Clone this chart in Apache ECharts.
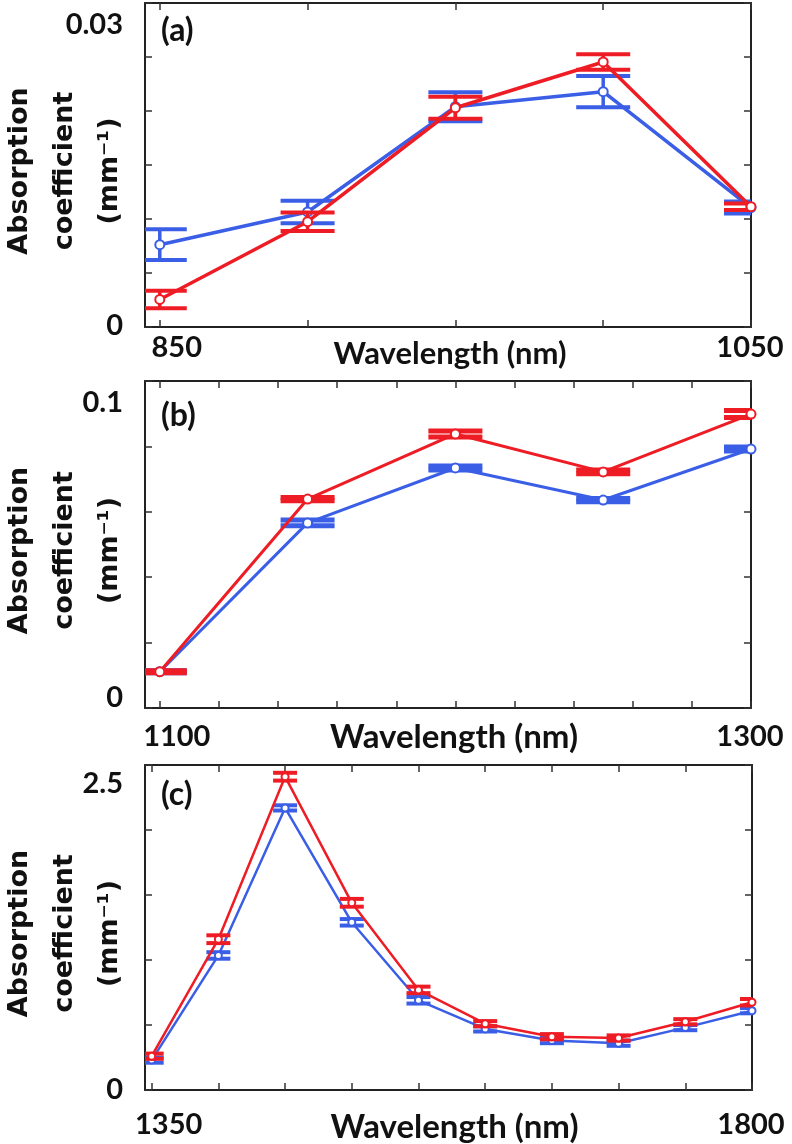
<!DOCTYPE html>
<html><head><meta charset="utf-8">
<script src="https://cdn.jsdelivr.net/npm/echarts@6/dist/echarts.min.js"></script>
<style>html,body{margin:0;padding:0;background:#fff}#c{width:792px;height:1144px}</style>
</head><body><div id="c"></div>
<script>
// ---- Panel (a) ----
const wlA = [850, 900, 950, 1000, 1050];
const blueA = [0.00762, 0.01065, 0.0204, 0.02179, 0.01106];
const blueErrA = [0.00142, 0.00105, 0.00134, 0.00145, 0.00055];
const redA = [0.00255, 0.00975, 0.0203, 0.02454, 0.01114];
const redErrA = [0.00081, 0.00086, 0.00102, 0.00071, 0.0003];
const xTicksA = [850, 900, 950, 1000, 1050];
const xLabelsA = [850, 1050];
const yLabelsA = [0, 0.03];

// ---- Panel (b) ----
const wlB = [1100, 1150, 1200, 1250, 1300];
const blueB = [0.0111, 0.0566, 0.0734, 0.0636, 0.0792];
const blueErrB = [0.0003, 0.0009, 0.0006, 0.0005, 0.0006];
const redB = [0.0111, 0.0639, 0.0838, 0.0722, 0.0899];
const redErrB = [0.0003, 0.0005, 0.0009, 0.0006, 0.0011];
const xTicksB = [1100, 1120, 1140, 1160, 1180, 1200, 1220, 1240, 1260, 1280, 1300];
const xLabelsB = [1100, 1300];
const yLabelsB = [0, 0.1];

// ---- Panel (c) ----
const wlC = [1350, 1400, 1450, 1500, 1550, 1600, 1650, 1700, 1750, 1800];
const blueC = [0.23, 1.035, 2.17, 1.29, 0.69, 0.47, 0.38, 0.36, 0.48, 0.61];
const blueErrC = [0.02, 0.025, 0.02, 0.025, 0.025, 0.02, 0.02, 0.02, 0.02, 0.02];
const redC = [0.26, 1.16, 2.41, 1.44, 0.77, 0.51, 0.41, 0.40, 0.525, 0.675];
const redErrC = [0.02, 0.03, 0.03, 0.03, 0.025, 0.02, 0.02, 0.02, 0.02, 0.025];
const xTicksC = [1350, 1400, 1450, 1500, 1550, 1600, 1650, 1700, 1750, 1800];
const xLabelsC = [1350, 1800];
const yLabelsC = [0, 2.5];

const panelLetters = ['(a)', '(b)', '(c)'];
const xName = 'Wavelength (nm)';
const yName = 'Absorption\ncoefficient\n(mm\u207B\u00B9)';

const RED = '#ee1c24', BLUE = '#3a5ee6', INK = '#111';
const TICKFONT = 'Lato';

const panels = [
  {grid:{left:145, top:3, width:606, height:324}, xMin:845, xMax:1050, xTicks:xTicksA, xLabels:xLabelsA,
   yMax:0.03, yInt:0.005, yLabels:yLabelsA, wl:wlA, blue:blueA, blueErr:blueErrA, red:redA, redErr:redErrA,
   cap:27, lw:3.5, capLw:4, sym:9, nameSize:31, nameDx:2, nameDy:27, lblDy:21, topShift:22, botShift:-1, letterDy:28},
  {grid:{left:145, top:381, width:606, height:327}, xMin:1095, xMax:1300, xTicks:xTicksB, xLabels:xLabelsB,
   yMax:0.1, yInt:0.02, yLabels:yLabelsB, wl:wlB, blue:blueB, blueErr:blueErrB, red:redB, redErr:redErrB,
   cap:27, lw:3, capLw:5, sym:9, nameSize:33, nameDx:6, nameDy:29, lblDy:29, topShift:22, botShift:-10, letterDy:35},
  {grid:{left:145, top:765, width:607, height:325}, xMin:1345, xMax:1800, xTicks:xTicksC, xLabels:xLabelsC,
   yMax:2.5, yInt:0.5, yLabels:yLabelsC, wl:wlC, blue:blueC, blueErr:blueErrC, red:redC, redErr:redErrC,
   cap:12, lw:2.5, capLw:4, sym:7, nameSize:33, nameDx:6, nameDy:37, lblDy:35, topShift:19, botShift:0, letterDy:30}
];

function errRender(capHalf, color, lw, capLw) {
  return function (params, api) {
    const x = api.value(0), y = api.value(1), e = api.value(2);
    const hi = api.coord([x, y + e]), lo = api.coord([x, y - e]);
    return {type:'group', children:[
      {type:'line', shape:{x1:hi[0], y1:hi[1], x2:lo[0], y2:lo[1]}, style:{stroke:color, lineWidth:lw}},
      {type:'line', shape:{x1:hi[0]-capHalf, y1:hi[1], x2:hi[0]+capHalf, y2:hi[1]}, style:{stroke:color, lineWidth:capLw}},
      {type:'line', shape:{x1:lo[0]-capHalf, y1:lo[1], x2:lo[0]+capHalf, y2:lo[1]}, style:{stroke:color, lineWidth:capLw}}
    ]};
  };
}

const grid = [], xAxis = [], yAxis = [], series = [];
const axisLineStyle = {show:true, onZero:false, lineStyle:{color:'#222', width:2}};
const tickStyle = {show:true, inside:true, length:7, lineStyle:{color:'#333', width:1.5}};

panels.forEach((p, i) => {
  grid.push(Object.assign({containLabel:false}, p.grid));
  ['bottom', 'top'].forEach(pos => xAxis.push({type:'value', gridIndex:i, position:pos, min:p.xMin, max:p.xMax,
    axisLine:axisLineStyle, axisTick:Object.assign({customValues:p.xTicks}, tickStyle),
    splitLine:{show:false}, axisLabel:{show:false}}));
  ['left', 'right'].forEach(pos => yAxis.push({type:'value', gridIndex:i, position:pos, min:0, max:p.yMax, interval:p.yInt,
    axisLine:axisLineStyle, axisTick:tickStyle, splitLine:{show:false}, axisLabel:{show:false}}));

  const xi = 2*i, yi = 2*i;
  const mk = (vals, errs) => p.wl.map((w, k) => [w, vals[k], errs[k]]);
  series.push({type:'custom', xAxisIndex:xi, yAxisIndex:yi, clip:true, z:2, silent:true,
    renderItem:errRender(p.cap, BLUE, p.lw, p.capLw), data:mk(p.blue, p.blueErr)});
  series.push({type:'line', xAxisIndex:xi, yAxisIndex:yi, z:3, clip:false,
    data:p.wl.map((w, k) => [w, p.blue[k]]), symbol:'emptyCircle', symbolSize:p.sym,
    lineStyle:{color:BLUE, width:p.lw}, itemStyle:{color:BLUE, borderColor:BLUE, borderWidth:2.5}});
  series.push({type:'custom', xAxisIndex:xi, yAxisIndex:yi, clip:true, z:4, silent:true,
    renderItem:errRender(p.cap, RED, p.lw, p.capLw), data:mk(p.red, p.redErr)});
  series.push({type:'line', xAxisIndex:xi, yAxisIndex:yi, z:5, clip:false,
    data:p.wl.map((w, k) => [w, p.red[k]]), symbol:'emptyCircle', symbolSize:p.sym,
    lineStyle:{color:RED, width:p.lw}, itemStyle:{color:RED, borderColor:RED, borderWidth:2.5}});
});

const chart = echarts.init(document.getElementById('c'), null, {renderer:'canvas'});
chart.setOption({animation:false, backgroundColor:'#fff', grid, xAxis, yAxis, series});

// Text placed from the axes' own scales
const graphic = [];
const tickFont = {fontFamily:TICKFONT, fontWeight:'bold', fontSize:29, fill:INK};
panels.forEach((p, i) => {
  const X = v => chart.convertToPixel({xAxisIndex:2*i}, v);
  const Y = v => chart.convertToPixel({yAxisIndex:2*i}, v);
  const x0 = X(p.xMin), x1 = X(p.xMax), y0 = Y(0), y1 = Y(p.yMax);
  p.xLabels.forEach((v, k) => {
    graphic.push({type:'text', x:X(v) + (k === 0 ? 17 : -1), y:y0 + p.lblDy,
      style:Object.assign({text:String(v), align:'center', verticalAlign:'middle'}, tickFont)});
  });
  p.yLabels.forEach(v => {
    const dy = v === 0 ? p.botShift : p.topShift;
    graphic.push({type:'text', x:x0 - 22, y:Y(v) + dy,
      style:Object.assign({text:String(v), align:'right', verticalAlign:'middle'}, tickFont)});
  });
  graphic.push({type:'text', x:(x0 + x1) / 2 + p.nameDx, y:y0 + p.nameDy,
    style:{text:xName, align:'center', verticalAlign:'middle', fontFamily:TICKFONT, fontWeight:'bold', fontSize:p.nameSize, fill:INK}});
  graphic.push({type:'text', x:x0 - 80, y:(y0 + y1) / 2 + 6, rotation:Math.PI / 2,
    style:{text:yName, align:'center', verticalAlign:'middle', fontFamily:'DejaVu Sans', fontWeight:'bold', fontSize:27, lineHeight:45, fill:INK}});
  graphic.push({type:'text', x:x0 + 16, y:y1 + p.letterDy,
    style:{text:panelLetters[i], align:'left', verticalAlign:'middle', fontFamily:TICKFONT, fontWeight:'bold', fontSize:32, fill:INK}});
});
chart.setOption({graphic});
</script></body></html>
